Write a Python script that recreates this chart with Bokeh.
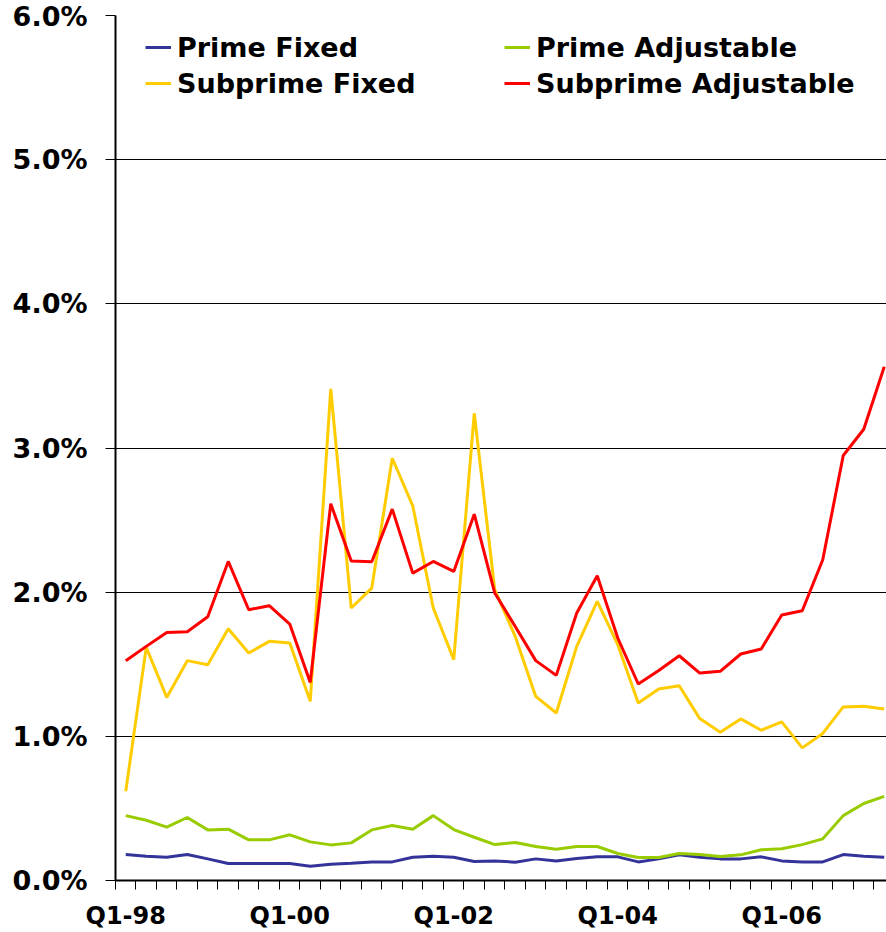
from bokeh.plotting import figure
from bokeh.models import (Range1d, FixedTicker, PrintfTickFormatter, Legend, LegendItem,
                          ColumnDataSource)
from bokeh.embed import file_html
from bokeh.resources import INLINE

# Quarterly rates (%) by loan type
quarters = [
    "Q1-98", "Q2-98", "Q3-98", "Q4-98", "Q1-99", "Q2-99", "Q3-99", "Q4-99",
    "Q1-00", "Q2-00", "Q3-00", "Q4-00", "Q1-01", "Q2-01", "Q3-01", "Q4-01",
    "Q1-02", "Q2-02", "Q3-02", "Q4-02", "Q1-03", "Q2-03", "Q3-03", "Q4-03",
    "Q1-04", "Q2-04", "Q3-04", "Q4-04", "Q1-05", "Q2-05", "Q3-05", "Q4-05",
    "Q1-06", "Q2-06", "Q3-06", "Q4-06", "Q1-07", "Q2-07",
]
labelled_quarters = ["Q1-98", "Q1-00", "Q1-02", "Q1-04", "Q1-06"]

prime_fixed = [
    0.180, 0.168, 0.161, 0.180, 0.150, 0.118, 0.118, 0.118, 0.118, 0.099,
    0.113, 0.120, 0.129, 0.129, 0.161, 0.168, 0.161, 0.132, 0.136, 0.127,
    0.150, 0.136, 0.152, 0.164, 0.164, 0.129, 0.150, 0.178, 0.161, 0.150,
    0.150, 0.164, 0.136, 0.129, 0.129, 0.180, 0.168, 0.161,
]
prime_adjustable = [
    0.450, 0.418, 0.370, 0.437, 0.351, 0.356, 0.282, 0.282, 0.317, 0.268,
    0.247, 0.261, 0.351, 0.381, 0.356, 0.450, 0.353, 0.300, 0.249, 0.263,
    0.236, 0.217, 0.236, 0.236, 0.187, 0.159, 0.159, 0.187, 0.180, 0.166,
    0.178, 0.213, 0.220, 0.249, 0.289, 0.450, 0.534, 0.584,
]
subprime_fixed = [
    0.619, 1.617, 1.270, 1.525, 1.497, 1.746, 1.578, 1.659, 1.647, 1.243,
    3.410, 1.890, 2.028, 2.929, 2.599, 1.890, 1.532, 3.241, 2.017, 1.693,
    1.277, 1.162, 1.624, 1.936, 1.636, 1.231, 1.328, 1.351, 1.123, 1.028,
    1.121, 1.042, 1.100, 0.920, 1.020, 1.204, 1.208, 1.190,
]
subprime_adjustable = [
    1.525, 1.624, 1.721, 1.726, 1.830, 2.213, 1.878, 1.906, 1.779, 1.374,
    2.613, 2.216, 2.211, 2.576, 2.132, 2.213, 2.144, 2.541, 1.994, 1.762,
    1.525, 1.423, 1.855, 2.114, 1.682, 1.363, 1.457, 1.559, 1.439, 1.451,
    1.571, 1.606, 1.841, 1.871, 2.225, 2.948, 3.130, 3.564,
]

series = [
    ("Prime Fixed", prime_fixed, "#333399"),
    ("Prime Adjustable", prime_adjustable, "#99CC00"),
    ("Subprime Fixed", subprime_fixed, "#FFCC00"),
    ("Subprime Adjustable", subprime_adjustable, "#FF0000"),
]

FONT = "DejaVu Sans"
n = len(quarters)
x = list(range(n))

p = figure(
    width=886, height=932, output_backend="svg", toolbar_location=None,
    x_range=Range1d(-0.5, n - 0.5 - 0.39), y_range=Range1d(0, 6),
    min_border_left=115, min_border_right=0, min_border_top=15, min_border_bottom=51,
)
p.outline_line_color = None
p.background_fill_color = "white"
p.border_fill_color = "white"

renderers = {}
for name, vals, color in series:
    src = ColumnDataSource(dict(x=x, y=vals))
    renderers[name] = p.line("x", "y", source=src, line_color=color, line_width=3)

# y axis: percentage gridlines every 1%
p.yaxis.ticker = FixedTicker(ticks=[0, 1, 2, 3, 4, 5, 6])
p.yaxis.formatter = PrintfTickFormatter(format="%.1f%%")
p.yaxis.major_label_text_font = FONT
p.yaxis.major_label_text_font_style = "bold"
p.yaxis.major_label_text_font_size = "27px"
p.yaxis.major_label_text_color = "black"
p.yaxis.major_label_standoff = 18
p.yaxis.major_tick_out = 10
p.yaxis.major_tick_in = 0
p.yaxis.major_tick_line_color = "black"
p.yaxis.minor_tick_line_color = None
p.yaxis.axis_line_color = "black"
p.yaxis.axis_line_width = 2
p.ygrid.grid_line_color = "black"
p.ygrid.grid_line_width = 1
p.xgrid.grid_line_color = None

# x axis: tick marks between quarters, labels on every second Q1
label_pos = [quarters.index(q) for q in labelled_quarters]
p.xaxis.ticker = FixedTicker(ticks=label_pos, minor_ticks=[i - 0.5 for i in range(n + 1)])
p.xaxis.major_label_overrides = {i: quarters[i] for i in label_pos}
p.xaxis.major_label_text_font = FONT
p.xaxis.major_label_text_font_style = "bold"
p.xaxis.major_label_text_font_size = "24px"
p.xaxis.major_label_text_color = "black"
p.xaxis.major_label_standoff = 12
p.xaxis.major_tick_out = 9
p.xaxis.major_tick_in = 0
p.xaxis.major_tick_line_color = None
p.xaxis.minor_tick_out = 9
p.xaxis.minor_tick_in = 0
p.xaxis.minor_tick_line_color = "black"
p.xaxis.axis_line_color = "black"
p.xaxis.axis_line_width = 2

# two legend columns
def make_legend(names, loc):
    lg = Legend(
        items=[LegendItem(label=nm, renderers=[renderers[nm]]) for nm in names],
        location=loc, orientation="vertical",
        padding=0, margin=0, spacing=4,
        glyph_width=26, glyph_height=32, label_height=32, label_standoff=6,
        label_text_font=FONT, label_text_font_style="bold",
        label_text_font_size="27px", label_text_color="black",
        border_line_color=None, background_fill_alpha=0,
    )
    p.add_layout(lg, "center")

make_legend(["Prime Fixed", "Subprime Fixed"], (30, 781))
make_legend(["Prime Adjustable", "Subprime Adjustable"], (389, 781))

open("out.html", "w").write(file_html(p, INLINE))
